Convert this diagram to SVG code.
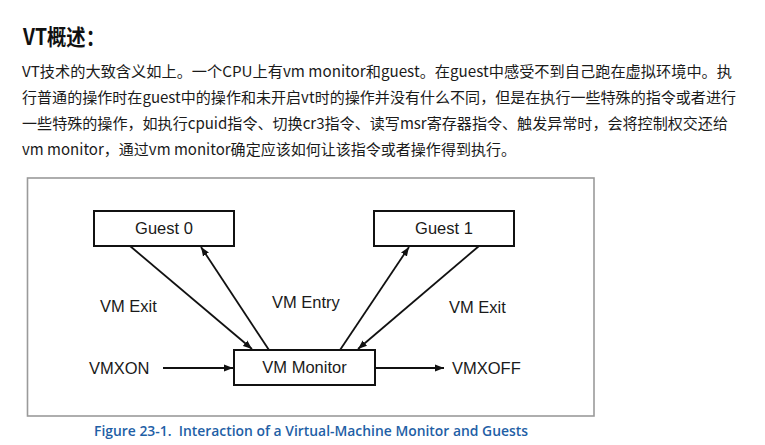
<svg xmlns="http://www.w3.org/2000/svg" width="765" height="445" viewBox="0 0 765 445">
<style>
.title{font-family:"Noto Sans CJK SC","Liberation Sans",sans-serif;font-size:22px;font-weight:bold;fill:#111}
.body{font-family:"Noto Sans CJK SC","Liberation Sans",sans-serif;font-size:15px;fill:#1a1a1a}
.lbl{font-family:"Liberation Sans",Arial,sans-serif;font-size:16.5px;fill:#1a1a1a}
.box{fill:#fff;stroke:#111;stroke-width:2}
.conn{stroke:#111;stroke-width:1.8;fill:none;marker-end:url(#ah)}
.cap{font-family:"Open Sans","Liberation Sans",sans-serif;font-size:14.5px;font-weight:600;fill:#1f5fa6;white-space:pre}
</style>
<defs>
<marker id="ah" markerUnits="userSpaceOnUse" markerWidth="10" markerHeight="8" refX="9" refY="4" orient="auto">
<path d="M0,0.5 L9,4 L0,7.5 z" fill="#111"/>
</marker>
</defs>
<rect width="765" height="445" fill="#fff"/>
<text class="title" x="23" y="45" textLength="82" lengthAdjust="spacingAndGlyphs">VT概述：</text>
<text class="body" x="22" y="77" textLength="710" lengthAdjust="spacingAndGlyphs">VT技术的大致含义如上。一个CPU上有vm monitor和guest。在guest中感受不到自己跑在虚拟环境中。执</text>
<text class="body" x="22" y="103" textLength="714" lengthAdjust="spacingAndGlyphs">行普通的操作时在guest中的操作和未开启vt时的操作并没有什么不同，但是在执行一些特殊的指令或者进行</text>
<text class="body" x="22" y="129" textLength="706" lengthAdjust="spacingAndGlyphs">一些特殊的操作，如执行cpuid指令、切换cr3指令、读写msr寄存器指令、触发异常时，会将控制权交还给</text>
<text class="body" x="22" y="155" textLength="494" lengthAdjust="spacingAndGlyphs">vm monitor，通过vm monitor确定应该如何让该指令或者操作得到执行。</text>
<rect x="27.5" y="178" width="566.5" height="238" fill="#fff" stroke="#9a9a9a" stroke-width="1.6"/>
<g id="connectors">
<line class="conn" x1="130" y1="246" x2="252" y2="349"/>
<line class="conn" x1="269" y1="350" x2="201" y2="247"/>
<line class="conn" x1="340" y1="350" x2="409" y2="247"/>
<line class="conn" x1="479" y1="246" x2="358" y2="349"/>
<line class="conn" x1="163" y1="368" x2="233" y2="368"/>
<line class="conn" x1="375" y1="368" x2="444" y2="368"/>
</g>
<g id="guest0">
<rect class="box" x="94" y="211" width="140" height="35"/>
<text class="lbl" x="164" y="234" text-anchor="middle">Guest 0</text>
</g>
<g id="guest1">
<rect class="box" x="374" y="211" width="140" height="35"/>
<text class="lbl" x="444" y="234" text-anchor="middle">Guest 1</text>
</g>
<g id="vmm">
<rect class="box" x="234" y="350" width="141" height="35"/>
<text class="lbl" x="304.5" y="373" text-anchor="middle">VM Monitor</text>
</g>
<g id="labels">
<text class="lbl" x="100" y="312">VM Exit</text>
<text class="lbl" x="272" y="308">VM Entry</text>
<text class="lbl" x="449" y="313">VM Exit</text>
<text class="lbl" x="89" y="374">VMXON</text>
<text class="lbl" x="452" y="374">VMXOFF</text>
</g>
<text class="cap" x="94" y="436" textLength="434" lengthAdjust="spacingAndGlyphs">Figure 23-1.  Interaction of a Virtual-Machine Monitor and Guests</text>
</svg>
